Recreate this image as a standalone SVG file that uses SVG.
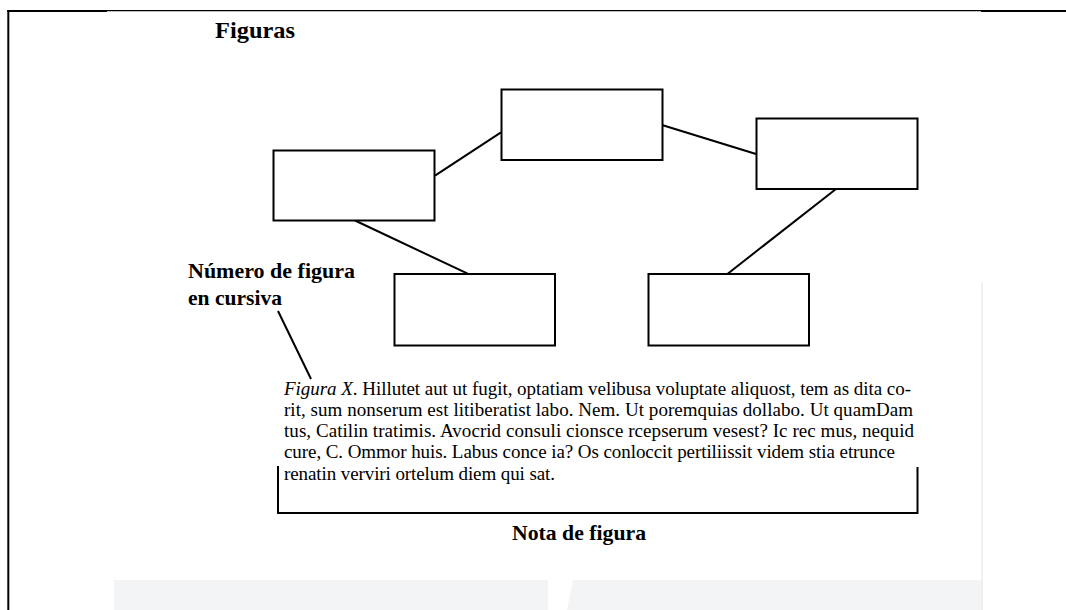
<svg xmlns="http://www.w3.org/2000/svg" width="1066" height="610" viewBox="0 0 1066 610">
<style>
.box{fill:#fff;stroke:#000;stroke-width:2}
.ln{stroke:#000;stroke-width:2;fill:none}
.t{font-family:"Liberation Serif","Times New Roman",serif;fill:#000}
.b{font-weight:bold}
.cap{font-size:19px}
</style>
<rect x="0" y="0" width="1066" height="610" fill="#fff"/>
<g id="background">
<rect x="114" y="580" width="434" height="30" fill="#f3f4f5"/>
<polygon points="573,580 982,580 982,610 567,610" fill="#f3f4f5"/>
<line x1="982" y1="282" x2="982" y2="610" stroke="#ececec" stroke-width="1.5"/>
</g>
<g id="frame">
<line x1="8.3" y1="10" x2="8.3" y2="610" stroke="#000" stroke-width="2"/>
<line x1="7.3" y1="11" x2="107" y2="11" stroke="#000" stroke-width="2"/>
<line x1="107" y1="10.7" x2="981" y2="10.7" stroke="#000" stroke-width="1.3"/>
<line x1="981" y1="11" x2="1066" y2="11" stroke="#000" stroke-width="2"/>
</g>
<text id="title" class="t b" x="215" y="37.5" font-size="24" textLength="80" lengthAdjust="spacingAndGlyphs">Figuras</text>
<g id="connectors">
<line class="ln" x1="435" y1="175.7" x2="501" y2="132.3"/>
<line class="ln" x1="662" y1="125" x2="756" y2="154"/>
<line class="ln" x1="355" y1="220.5" x2="467.7" y2="273.7"/>
<line class="ln" x1="836" y1="189" x2="727.7" y2="273.7"/>
<line class="ln" x1="278" y1="311" x2="311" y2="379"/>
</g>
<g id="nodeA"><rect class="box" x="273.5" y="150.5" width="161" height="70"/></g>
<g id="nodeB"><rect class="box" x="501.5" y="89.5" width="161" height="70.5"/></g>
<g id="nodeC"><rect class="box" x="756.5" y="118.5" width="161" height="70.5"/></g>
<g id="nodeD"><rect class="box" x="394.5" y="274" width="160.5" height="71.5"/></g>
<g id="nodeE"><rect class="box" x="648.5" y="274" width="160.5" height="71.5"/></g>
<g id="label-numero">
<text class="t b" x="188" y="278.3" font-size="22" textLength="167" lengthAdjust="spacingAndGlyphs">Número de figura</text>
<text class="t b" x="188" y="305" font-size="22" textLength="94" lengthAdjust="spacingAndGlyphs">en cursiva</text>
</g>
<g id="caption" class="t cap">
<text x="284" y="395" textLength="627" lengthAdjust="spacing"><tspan font-style="italic">Figura X</tspan>. Hillutet aut ut fugit, optatiam velibusa voluptate aliquost, tem as dita co-</text>
<text x="284" y="416" textLength="629" lengthAdjust="spacing">rit, sum nonserum est litiberatist labo. Nem. Ut poremquias dollabo. Ut quamDam</text>
<text x="284" y="437" textLength="630" lengthAdjust="spacing">tus, Catilin tratimis. Avocrid consuli cionsce rcepserum vesest? Ic rec mus, nequid</text>
<text x="284" y="458" textLength="611" lengthAdjust="spacing">cure, C. Ommor huis. Labus conce ia? Os conloccit pertiliissit videm stia etrunce</text>
<text x="284" y="479.5" textLength="271" lengthAdjust="spacing">renatin verviri ortelum diem qui sat.</text>
</g>
<g id="bracket">
<polyline class="ln" points="278,466 278,513 917.5,513 917.5,467"/>
</g>
<text id="label-nota" class="t b" x="512" y="540" font-size="22" textLength="134" lengthAdjust="spacingAndGlyphs">Nota de figura</text>
</svg>
